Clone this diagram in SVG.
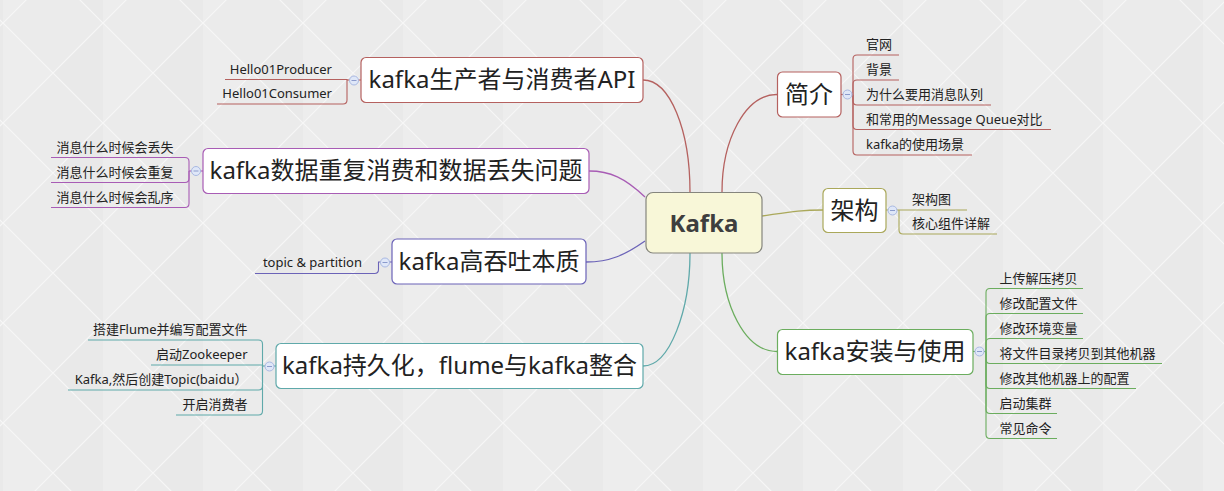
<svg xmlns="http://www.w3.org/2000/svg" width="1224" height="491" viewBox="0 0 1224 491">
<defs>
<pattern id="bg" patternUnits="userSpaceOnUse" x="3" y="23" width="100" height="100">
<rect width="100" height="100" fill="#ebebeb"/>
<path d="M0 0 L50 50 L0 100 Z" fill="#ededed"/>
<path d="M100 0 L50 50 L100 100 Z" fill="#e9e9e9"/>
<path d="M0 0 L100 100 M100 0 L0 100" stroke="#f7f7f7" stroke-width="1.2"/>
</pattern>
<style>
.t{font-family:'Noto Sans','Noto Sans CJK SC',sans-serif;fill:#222}
.main{font-size:24px}
.sub{font-size:13px}
.end{text-anchor:end}
.mid{text-anchor:middle}
.box{fill:#fff;stroke-width:1.2}
.c{fill:none;stroke-width:1.3}
.u{fill:none;stroke-width:1.1}
.col{fill:#dfe7f8;stroke:#a9b9e2;stroke-width:1}
.minus{stroke:#8b9bcc;stroke-width:1}
.red{stroke:#b5615f}
.olv{stroke:#aaa85a}
.grn{stroke:#6bad5e}
.pur{stroke:#a85cb5}
.blu{stroke:#6b63b8}
.tel{stroke:#5fa9aa}
</style>
</defs>
<rect width="1224" height="491" fill="url(#bg)"/>

<g id="connectors">
<path class="c red" d="M722 192 C722 140 745 94.5 777 94.5"/>
<path class="c olv" d="M762 216 C790 212 800 210 823 210"/>
<path class="c grn" d="M722 253 C722 305 745 351.5 777 351.5"/>
<path class="c red" d="M690 192 C690 130 670 80 643 80"/>
<path class="c pur" d="M645 197 C625 178 610 171 589 171"/>
<path class="c blu" d="M645 241 C625 255 610 262 586 262"/>
<path class="c tel" d="M690 253 C690 310 670 366 643 366"/>

<!-- 简介 children -->
<path class="u red" d="M841 94.5 H853"/>
<path class="u red" d="M853 94.5 V59 Q853 55 857 55 H899"/>
<path class="u red" d="M853 94.5 V84 Q853 80 857 80 H899"/>
<path class="u red" d="M853 94.5 V101 Q853 105 857 105 H991"/>
<path class="u red" d="M853 94.5 V125.5 Q853 129.5 857 129.5 H1051"/>
<path class="u red" d="M853 94.5 V151 Q853 155 857 155 H972"/>
<!-- 架构 children -->
<path class="u olv" d="M886 210 H967"/>
<path class="u olv" d="M899 210 V230 Q899 234 903 234 H997"/>
<!-- 安装 children -->
<path class="u grn" d="M973 351.5 H986"/>
<path class="u grn" d="M986 351.5 V292.5 Q986 288.5 990 288.5 H1083"/>
<path class="u grn" d="M986 351.5 V317.5 Q986 313.5 990 313.5 H1083"/>
<path class="u grn" d="M986 351.5 V342.5 Q986 338.5 990 338.5 H1083"/>
<path class="u grn" d="M986 351.5 V359.5 Q986 363.5 990 363.5 H1162"/>
<path class="u grn" d="M986 351.5 V384.5 Q986 388.5 990 388.5 H1136"/>
<path class="u grn" d="M986 351.5 V409.5 Q986 413.5 990 413.5 H1057"/>
<path class="u grn" d="M986 351.5 V434.5 Q986 438.5 990 438.5 H1057"/>
<!-- API children -->
<path class="u red" d="M361 80 H347"/>
<path class="u red" d="M347 80 V79.5 H225"/>
<path class="u red" d="M347 80 V100 Q347 104 343 104 H217"/>
<!-- 数据丢失 children -->
<path class="u pur" d="M203 171 H189"/>
<path class="u pur" d="M189 171 V161.5 Q189 157.5 185 157.5 H51"/>
<path class="u pur" d="M189 171 V178.5 Q189 182.5 185 182.5 H51"/>
<path class="u pur" d="M189 171 V203.5 Q189 207.5 185 207.5 H51"/>
<!-- 高吞吐 children -->
<path class="u blu" d="M392 262 H378.5 V269.5 Q378.5 273.5 374.5 273.5 H255"/>
<!-- teal children -->
<path class="u tel" d="M276 366 H262.5"/>
<path class="u tel" d="M262.5 366 V365 H151"/>
<path class="u tel" d="M262.5 366 V344 Q262.5 340 258.5 340 H88"/>
<path class="u tel" d="M262.5 366 V386 Q262.5 390 258.5 390 H68"/>
<path class="u tel" d="M262.5 366 V411 Q262.5 415 258.5 415 H176"/>
</g>

<g id="kafka">
<rect x="646" y="192.5" width="116" height="60.5" rx="7" fill="#f8f7d8" stroke="#85857d" stroke-width="1.2"/>
<text class="t mid" x="704" y="231.5" style="font-size:24px;font-weight:bold;fill:#3e3e3e">Kafka</text>
</g>

<g id="jianjie">
<rect class="box red" x="777.5" y="72" width="63.5" height="45" rx="5"/>
<text class="t main mid" x="809" y="103">简介</text>
<circle class="col" cx="847.5" cy="94.5" r="4.5"/><path class="minus" d="M845 94.5 H850"/>
<text class="t sub" x="866" y="49">官网</text>
<text class="t sub" x="866" y="74">背景</text>
<text class="t sub" x="866" y="99">为什么要用消息队列</text>
<text class="t sub" x="866" y="123.5">和常用的Message Queue对比</text>
<text class="t sub" x="866" y="149">kafka的使用场景</text>
</g>

<g id="jiagou">
<rect class="box olv" x="823" y="188.5" width="63" height="44" rx="5"/>
<text class="t main mid" x="854.5" y="219">架构</text>
<circle class="col" cx="892.5" cy="210.5" r="4.5"/><path class="minus" d="M890 210.5 H895"/>
<text class="t sub" x="912" y="203.5">架构图</text>
<text class="t sub" x="912" y="228">核心组件详解</text>
</g>

<g id="anzhuang">
<rect class="box grn" x="777.5" y="329.5" width="195.5" height="45" rx="5"/>
<text class="t main mid" x="875" y="360">kafka安装与使用</text>
<circle class="col" cx="979.5" cy="351.5" r="4.5"/><path class="minus" d="M977 351.5 H982"/>
<text class="t sub" x="999.5" y="282.5">上传解压拷贝</text>
<text class="t sub" x="999.5" y="307.5">修改配置文件</text>
<text class="t sub" x="999.5" y="332.5">修改环境变量</text>
<text class="t sub" x="999.5" y="357.5">将文件目录拷贝到其他机器</text>
<text class="t sub" x="999.5" y="382.5">修改其他机器上的配置</text>
<text class="t sub" x="999.5" y="407.5">启动集群</text>
<text class="t sub" x="999.5" y="432.5">常见命令</text>
</g>

<g id="api">
<rect class="box red" x="361" y="57.5" width="282" height="45" rx="5"/>
<text class="t main mid" x="502" y="88">kafka生产者与消费者API</text>
<circle class="col" cx="354" cy="80.5" r="4.5"/><path class="minus" d="M351.5 80.5 H356.5"/>
<text class="t sub end" x="332" y="73.5">Hello01Producer</text>
<text class="t sub end" x="332" y="98">Hello01Consumer</text>
</g>

<g id="chongfu">
<rect class="box pur" x="203" y="148.5" width="386" height="45" rx="5"/>
<text class="t main mid" x="396" y="179">kafka数据重复消费和数据丢失问题</text>
<circle class="col" cx="196" cy="171" r="4.5"/><path class="minus" d="M193.5 171 H198.5"/>
<text class="t sub end" x="173.5" y="151.5">消息什么时候会丢失</text>
<text class="t sub end" x="173.5" y="176.5">消息什么时候会重复</text>
<text class="t sub end" x="173.5" y="201.5">消息什么时候会乱序</text>
</g>

<g id="tuntu">
<rect class="box blu" x="392" y="239" width="194" height="45" rx="5"/>
<text class="t main mid" x="489" y="270">kafka高吞吐本质</text>
<circle class="col" cx="385" cy="262.5" r="4.5"/><path class="minus" d="M382.5 262.5 H387.5"/>
<text class="t sub end" x="362" y="267">topic &amp; partition</text>
</g>

<g id="flume">
<rect class="box tel" x="276" y="343.5" width="367" height="45" rx="5"/>
<text class="t main mid" x="459.5" y="374">kafka持久化，flume与kafka整合</text>
<circle class="col" cx="269.5" cy="366.5" r="4.5"/><path class="minus" d="M267 366.5 H272"/>
<text class="t sub end" x="247.5" y="334">搭建Flume并编写配置文件</text>
<text class="t sub end" x="247.5" y="359">启动Zookeeper</text>
<text class="t sub end" x="247.5" y="384">Kafka,然后创建Topic(baidu）</text>
<text class="t sub end" x="247.5" y="409">开启消费者</text>
</g>
</svg>
